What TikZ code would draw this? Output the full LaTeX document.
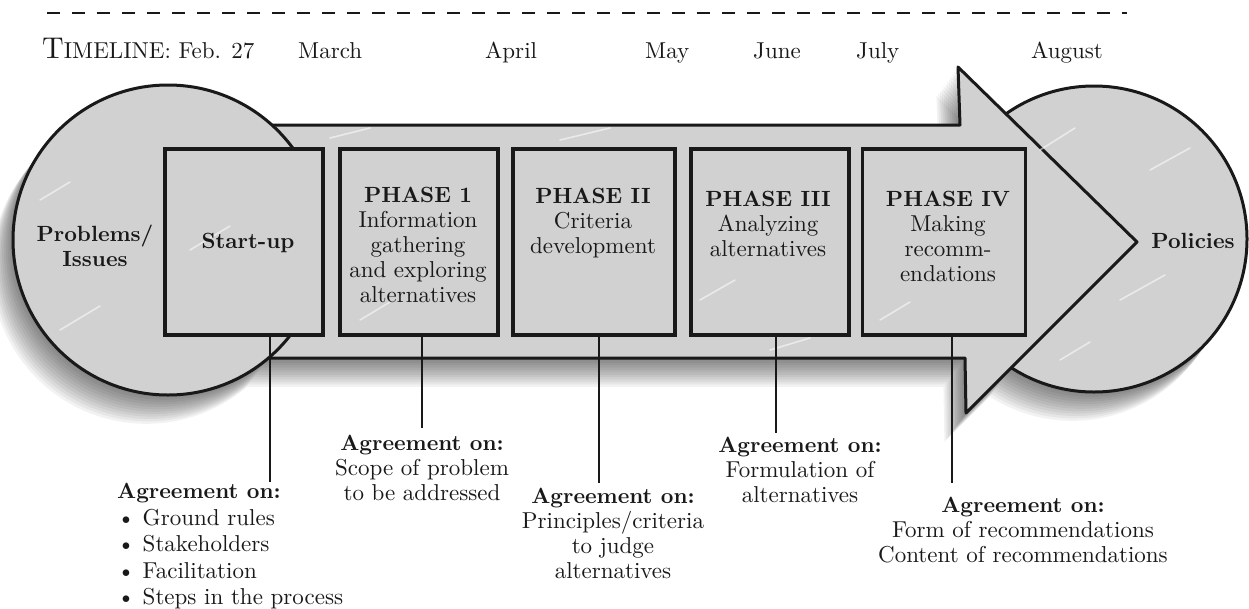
\documentclass[tikz,border=0pt]{standalone}
\usepackage{fontspec}
\setmainfont{lmroman10}[Extension=.otf, UprightFont=*-regular, BoldFont=*-bold, ItalicFont=*-italic, BoldItalicFont=*-bolditalic]
\definecolor{fillg}{RGB}{209,209,209}
\definecolor{inkc}{RGB}{25,25,25}
\tikzset{
  outl/.style={line width=3pt, draw=inkc, line join=round},
  boxstyle/.style={draw=inkc, line width=3.4pt, fill=fillg, minimum width=158pt, minimum height=186pt, inner sep=0pt, outer sep=0pt},
  txt/.style={font=\fontsize{23}{25}\selectfont, align=center, inner sep=0pt, text=inkc},
  bld/.style={font=\fontsize{22}{25}\selectfont\bfseries},
  lead/.style={line width=1.8pt, draw=inkc},
  streak/.style={draw=white, line width=1.6pt, opacity=0.55, line cap=round},
  shade/.style={fill=black, opacity=0.05}
}
\newcommand{\bft}[1]{{\fontsize{22}{25}\selectfont\bfseries #1}}
\begin{document}
\begin{tikzpicture}[x=1pt,y=-1pt]
\useasboundingbox (0,0) rectangle (1249,608);

% dashed rule
\draw[line width=2pt, inkc, dash pattern=on 13pt off 12pt] (47,13) -- (1127,13);

% timeline
\node[txt, anchor=base west] (tl) at (42,58) {{\fontsize{30}{30}\selectfont T}{\fontsize{23}{23}\selectfont IMELINE}: Feb. 27};
\node[txt, anchor=base west] (mar) at (298,58) {March};
\node[txt, anchor=base west] (apr) at (485,58) {April};
\node[txt, anchor=base west] (may) at (645,58) {May};
\node[txt, anchor=base west] (jun) at (753,58) {June};
\node[txt, anchor=base west] (jul) at (856,58) {July};
\node[txt, anchor=base west] (aug) at (1031,58) {August};

% shadow
\foreach \k in {1,...,12}{
  \fill[shade, shift={(-1.8*\k,2.4*\k)}]
    (168,240) circle (155)
    (1094,239) circle (153)
    (200,125) -- (960,125) -- (958,67) -- (1137,242) -- (966,413) -- (965,358) -- (200,358) -- cycle;
}

% right circle, arrow, left circle
\filldraw[outl, fill=fillg] (1094,239) circle (153);
\filldraw[outl, fill=fillg] (200,125) -- (960,125) -- (958,67) -- (1137,242) -- (966,413) -- (965,358) -- (200,358) -- cycle;
\filldraw[outl, fill=fillg] (168,240) circle (155);

% streaks on the big shapes
\draw[streak] (40,200) -- ++(30,-18);
\draw[streak] (60,330) -- ++(40,-24);
\draw[streak] (330,138) -- ++(40,-10);
\draw[streak] (560,140) -- ++(50,-12);
\draw[streak] (1040,150) -- ++(35,-22);
\draw[streak] (1150,170) -- ++(40,-22);
\draw[streak] (1120,300) -- ++(45,-25);
\draw[streak] (1060,360) -- ++(30,-18);
\draw[streak] (770,350) -- ++(40,-12);

% boxes
\node[boxstyle] (s) at (244,242) {};
\node[boxstyle] (p1) at (419,242) {};
\node[boxstyle, minimum width=162pt] (p2) at (594,242) {};
\node[boxstyle] (p3) at (770,242) {};
\node[boxstyle, minimum width=163pt] (p4) at (944,242) {};

\draw[streak] (190,250) -- ++(40,-24);
\draw[streak] (360,320) -- ++(30,-18);
\draw[streak] (700,300) -- ++(35,-20);
\draw[streak] (880,320) -- ++(30,-18);

% texts
\node[txt, bld, anchor=north] (prob) at (95,225) {Problems/\\Issues};
\node[txt, bld] (st) at (248,243) {Start-up};
\node[txt, bld] (pol) at (1193,241) {Policies};

\node[txt, anchor=north] (p1t) at (418,187) {\bft{PHASE 1}\\Information\\gathering\\and exploring\\alternatives};
\node[txt, anchor=north] (p2t) at (593,188) {\bft{PHASE II}\\Criteria\\development};
\node[txt, anchor=north] (p3t) at (768,191) {\bft{PHASE III}\\Analyzing\\alternatives};
\node[txt, anchor=north] (p4t) at (948,191) {\bft{PHASE IV}\\Making\\recomm-\\endations};

% agreements
\node[txt, align=left, anchor=north west, font=\fontsize{23}{26.5}\selectfont] (a0) at (117,483)
  {\bft{Agreement on:}\\\textbullet\ Ground rules\\\textbullet\ Stakeholders\\\textbullet\ Facilitation\\\textbullet\ Steps in the process};
\node[txt, anchor=north] (a1) at (422,435) {\bft{Agreement on:}\\Scope of problem\\to be addressed};
\node[txt, anchor=north] (a2) at (613,488) {\bft{Agreement on:}\\Principles/criteria\\to judge\\alternatives};
\node[txt, anchor=north] (a3) at (800,437) {\bft{Agreement on:}\\Formulation of\\alternatives};
\node[txt, anchor=north] (a4) at (1023,497) {\bft{Agreement on:}\\Form of recommendations\\Content of recommendations};

% leader lines
\coordinate (c0) at (270,482);
\coordinate (c1) at (422,428);
\coordinate (c2) at (599,483);
\coordinate (c3) at (776,433);
\coordinate (c4) at (952,483);
\draw[lead] (s.south -| c0) -- (c0);
\draw[lead] (p1.south -| c1) -- (c1);
\draw[lead] (p2.south -| c2) -- (c2);
\draw[lead] (p3.south -| c3) -- (c3);
\draw[lead] (p4.south -| c4) -- (c4);
\end{tikzpicture}
\end{document}
